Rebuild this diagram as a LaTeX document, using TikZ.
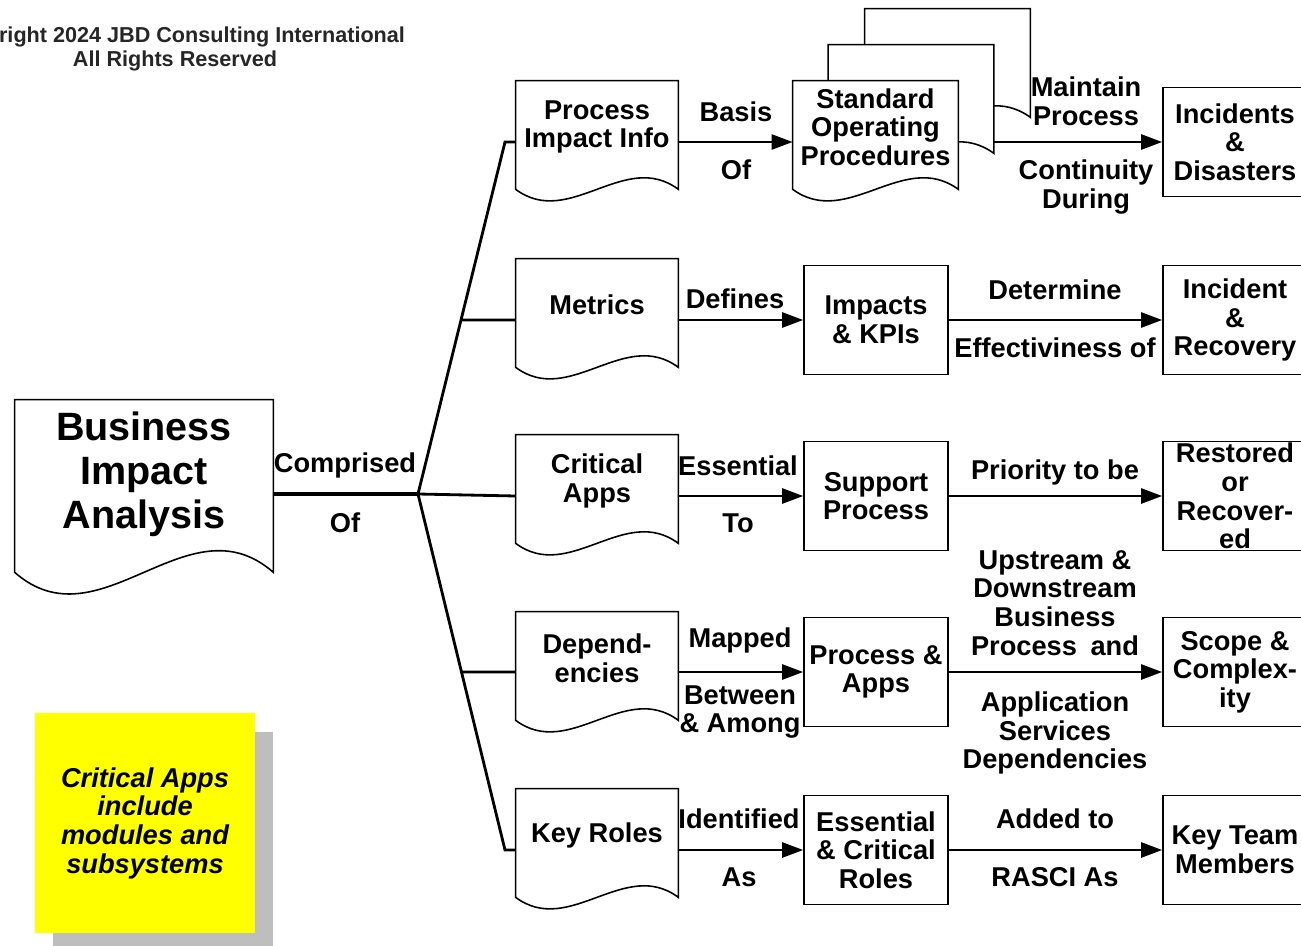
\documentclass[tikz,border=0pt]{standalone}
\usepackage{fontspec}
\setmainfont{Liberation Sans}
\usepackage{tikz}
\usetikzlibrary{positioning,arrows.meta,calc,backgrounds,shadows}
\usepackage{xcolor}
\definecolor{noteyellow}{RGB}{255,255,0}
\definecolor{shadowgrey}{RGB}{190,190,190}

\tikzset{
  boxfont/.style={font=\fontsize{15.5}{16.3}\selectfont\bfseries},
  docbox/.style={boxfont,minimum width=3.24cm,minimum height=1.84cm,inner sep=0pt,align=center},
  rectbox/.style={boxfont,draw,line width=0.9pt,minimum width=2.88cm,minimum height=2.18cm,inner sep=0pt,align=center},
  lbl/.style={boxfont,inner sep=0pt,align=center},
  link/.style={line width=1.6pt},
  arr/.style={link,-{Triangle[length=12pt,width=8.5pt]}},
  docline/.style={fill=white,draw,line width=0.9pt}
}

% document outline under a node: node, drop below node, wave height
\newcommand{\docoutline}[3]{%
  \path ([yshift=-#2]#1.south east) coordinate (#1-r)
        ([yshift=-#2]#1.south west) coordinate (#1-l);
  \filldraw[docline] (#1.north west) -- (#1.north east) -- (#1-r)
    .. controls ([yshift=#3]$(#1-r)!0.33!(#1-l)$) and ([yshift=-#3]$(#1-l)!0.33!(#1-r)$) .. (#1-l) -- cycle;
}

\begin{document}
\begin{tikzpicture}[x=0.02cm,y=-0.02cm]
  \useasboundingbox (0,0) rectangle (1301,946);

  \node[lbl,font=\fontsize{12.3}{13.6}\selectfont\bfseries,text=black!85] (copy) at (175,49)
    {Copyright 2024 JBD Consulting International\\All Rights Reserved};

  % left side
  \node[docbox,minimum width=5.16cm,minimum height=2.96cm,
        font=\fontsize{22.5}{25}\selectfont\bfseries] (bia) at (144,474) {Business\\Impact\\Analysis};
  \node[boxfont,font=\fontsize{15.5}{16.3}\selectfont\bfseries\itshape,fill=noteyellow,
        minimum width=4.4cm,minimum height=4.4cm,inner sep=0pt,align=center,
        drop shadow={shadow xshift=0.36cm,shadow yshift=-0.38cm,fill=shadowgrey,opacity=1}]
    (note) at (145,823) {Critical Apps\\include\\modules and\\subsystems};

  % documents
  \node[docbox] (pii) at (597,127) {Process\\Impact Info};
  \node[docbox] (met) at (597,305) {Metrics};
  \node[docbox] (cap) at (597,481) {Critical\\Apps};
  \node[docbox] (dep) at (597,658) {Depend-\\encies};
  \node[docbox] (kro) at (597,835) {Key Roles};

  \node[docbox,minimum width=3.3cm] (sop3) at (947.5,55) {};
  \node[docbox,minimum width=3.3cm] (sop2) at (911,91) {};
  \node[docbox,minimum width=3.3cm] (sop) at (875.5,127) {Standard\\Operating\\Procedures};

  \begin{scope}[on background layer]
    \docoutline{bia}{0.48cm}{1.5cm}
    \foreach \d in {pii,met,cap,dep,kro,sop3,sop2,sop} {\docoutline{\d}{0.32cm}{0.8cm}}
  \end{scope}

  % middle and right boxes
  \node[rectbox] (imp) at (876,320) {Impacts\\\& KPIs};
  \node[rectbox] (sup) at (876,496) {Support\\Process};
  \node[rectbox] (pra) at (876,672) {Process \&\\Apps};
  \node[rectbox] (ecr) at (876,850) {Essential\\\& Critical\\Roles};

  \node[rectbox] (incd) at (1235,142) {Incidents\\\&\\Disasters};
  \node[rectbox] (incr) at (1235,320) {Incident\\\&\\Recovery};
  \node[rectbox] (rest) at (1235,496) {Restored\\or\\Recover-\\ed};
  \node[rectbox] (scope) at (1235,672) {Scope \&\\Complex-\\ity};
  \node[rectbox] (ktm) at (1235,850) {Key Team\\Members};

  % fan
  \coordinate (fork) at (418,494);
  \coordinate (topk) at (505,142);
  \coordinate (botk) at (505,850);
  \draw[link,line width=2.6pt] (bia.east |- fork) -- (fork);
  \draw[link] (pii.west |- topk) -- (topk) -- (fork) -- (botk) -- (kro.west |- botk);
  \draw[link] (fork) -- (cap.west |- sup);
  \draw[link] (intersection of fork--topk and imp.west--imp.east) -- (met.west |- imp);
  \draw[link] (intersection of fork--botk and pra.west--pra.east) -- (dep.west |- pra);

  % arrows
  \draw[arr] (pii.east |- incd) -- (sop.west |- incd);
  \draw[arr] (sop2.east |- incd) -- (incd.west);
  \draw[arr] (met.east |- imp) -- (imp.west);
  \draw[arr] (imp.east) -- (incr.west);
  \draw[arr] (cap.east |- sup) -- (sup.west);
  \draw[arr] (sup.east) -- (rest.west);
  \draw[arr] (dep.east |- pra) -- (pra.west);
  \draw[arr] (pra.east) -- (scope.west);
  \draw[arr] (kro.east |- ecr) -- (ecr.west);
  \draw[arr] (ecr.east) -- (ktm.west);

  % labels
  \node[lbl] (l-comp) at (345,465) {Comprised};
  \node[lbl] (l-of) at (345,523) {Of};
  \node[lbl] (l-basis) at (736,112) {Basis};
  \node[lbl] (l-of2) at (736,170) {Of};
  \node[lbl] (l-maint) at (1086,101) {Maintain\\Process};
  \node[lbl] (l-cont) at (1086,187) {Continuity\\During};
  \node[lbl] (l-def) at (735,299) {Defines};
  \node[lbl] (l-det) at (1055,290) {Determine};
  \node[lbl] (l-eff) at (1055,348) {Effectiviness of};
  \node[lbl] (l-ess) at (738,466) {Essential};
  \node[lbl] (l-to) at (738,523) {To};
  \node[lbl] (l-prio) at (1055,472) {Priority to be};
  \node[lbl] (l-map) at (740,640) {Mapped};
  \node[lbl] (l-betw) at (740,712) {Between\\\& Among};
  \node[lbl] (l-up) at (1055,603) {Upstream \&\\Downstream\\Business\\Process\enspace and};
  \node[lbl] (l-appl) at (1055,733) {Application\\Services\\Dependencies};
  \node[lbl] (l-ident) at (739,819) {Identified};
  \node[lbl] (l-as) at (739,877) {As};
  \node[lbl] (l-add) at (1055,819) {Added to};
  \node[lbl] (l-rasci) at (1055,877) {RASCI As};
\end{tikzpicture}
\end{document}
